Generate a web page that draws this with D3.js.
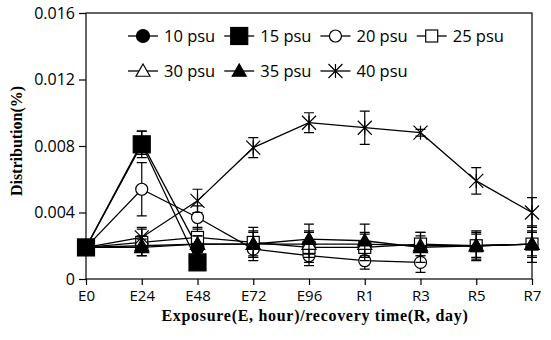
<!DOCTYPE html>
<html><head><meta charset="utf-8">
<script src="https://cdn.jsdelivr.net/npm/d3@7"></script>
<style>body{margin:0;background:#fff}</style>
</head><body>
<svg id="c" width="551" height="340"></svg>
<script>
const categories = ["E0","E24","E48","E72","E96","R1","R3","R5","R7"];
const yTicks = [0, 0.004, 0.008, 0.012, 0.016];
const yTickLabels = ["0","0.004","0.008","0.012","0.016"];
const seriesNames = ["10 psu","15 psu","20 psu","25 psu","30 psu","35 psu","40 psu"];
const psu10 = [0.0019, 0.0082, 0.0019];
const psu15 = [0.0019, 0.0081, 0.0010];
const psu20 = [0.0019, 0.0054, 0.0037, 0.0018, 0.0014, 0.0011, 0.0010];
const psu25 = [0.0019, 0.0022, 0.0025, 0.0022, 0.0019, 0.0019, 0.0021, 0.0020, 0.0021];
const psu30 = [0.0019, 0.0020, 0.0021, 0.0021, 0.0021, 0.0021, 0.0020, 0.0020, 0.0021];
const psu35 = [0.0019, 0.0019, 0.0021, 0.0021, 0.0024, 0.0023, 0.0019, 0.0020, 0.0021];
const psu40 = [0.0019, 0.0025, 0.0047, 0.0079, 0.0094, 0.0091, 0.0088, 0.0059, 0.0040];
const err10 = [0, 0.0007, 0.0005];
const err15 = [0, 0.0008, 0.0003];
const err20 = [0, 0.0016, 0.0007, 0.0007, 0.0006, 0.0005, 0.0006];
const err25 = [0, 0.0008, 0.0006, 0.0009, 0.0009, 0.0008, 0.0007, 0.0008, 0.0008];
const err30 = [0, 0.0006, 0.0005, 0.0007, 0.0008, 0.0007, 0.0006, 0.0007, 0.0007];
const err35 = [0, 0.0005, 0.0005, 0.0008, 0.0009, 0.0010, 0.0009, 0.0009, 0.0011];
const err40 = [0, 0.0006, 0.0007, 0.0006, 0.0006, 0.0010, 0.0002, 0.0008, 0.0009];
const xTitle = "Exposure(E, hour)/recovery time(R, day)";
const yTitle = "Distribution(%)";

const series = [
  {name: seriesNames[0], v: psu10, e: err10, sym: "circle", fill: true},
  {name: seriesNames[1], v: psu15, e: err15, sym: "square", fill: true},
  {name: seriesNames[2], v: psu20, e: err20, sym: "circle", fill: false},
  {name: seriesNames[3], v: psu25, e: err25, sym: "square", fill: false},
  {name: seriesNames[4], v: psu30, e: err30, sym: "triangle", fill: false},
  {name: seriesNames[5], v: psu35, e: err35, sym: "triangle", fill: true},
  {name: seriesNames[6], v: psu40, e: err40, sym: "star", fill: false}
];

const L = 86, R = 532, T = 13, B = 279;
const svg = d3.select("#c");
const x = d3.scalePoint().domain(categories).range([L, R]);
const y = d3.scaleLinear().domain([0, 0.016]).range([B, T]);

svg.append("rect").attr("x", L).attr("y", T).attr("width", R - L).attr("height", B - T)
  .attr("fill", "none").attr("stroke", "#000").attr("stroke-width", 1.2);

const yAxis = svg.append("g").attr("transform", `translate(${L},0)`)
  .call(d3.axisLeft(y).tickValues(yTicks).tickSize(7).tickPadding(4).tickFormat((d, i) => yTickLabels[i]));
yAxis.select(".domain").remove();
yAxis.selectAll("line").attr("stroke", "#000").attr("stroke-width", 1.2);
yAxis.selectAll("text").attr("font-family", "Open Sans").attr("font-size", 16).attr("fill", "#000");

const xAxis = svg.append("g").attr("transform", `translate(0,${B})`)
  .call(d3.axisBottom(x).tickSize(6).tickPadding(5));
xAxis.select(".domain").remove();
xAxis.selectAll("line").attr("stroke", "#000").attr("stroke-width", 1.2);
xAxis.selectAll("text").attr("font-family", "Open Sans").attr("font-size", 15).attr("fill", "#000");

svg.append("text").attr("x", (L + R) / 2 + 6).attr("y", 321).attr("text-anchor", "middle")
  .attr("font-family", "Liberation Serif").attr("font-weight", "bold").attr("font-size", 16)
  .attr("letter-spacing", 0.7).text(xTitle);
svg.append("text").attr("transform", "translate(22,141) rotate(-90)").attr("text-anchor", "middle")
  .attr("font-family", "Liberation Serif").attr("font-weight", "bold").attr("font-size", 16).text(yTitle);

function marker(g, s, cx, cy) {
  if (s.sym === "circle") {
    g.append("circle").attr("cx", cx).attr("cy", cy).attr("r", s.fill ? 6.5 : 6)
      .attr("fill", s.fill ? "#000" : "#fff").attr("stroke", "#000").attr("stroke-width", 1.2);
  } else if (s.sym === "square") {
    const h = s.fill ? 8.5 : 6;
    g.append("rect").attr("x", cx - h).attr("y", cy - h).attr("width", 2 * h).attr("height", 2 * h)
      .attr("fill", s.fill ? "#000" : "#fff").attr("stroke", "#000").attr("stroke-width", 1.2);
  } else if (s.sym === "triangle") {
    const h = 7;
    g.append("path").attr("d", `M${cx},${cy - h}L${cx + h},${cy + h * 0.75}L${cx - h},${cy + h * 0.75}Z`)
      .attr("fill", s.fill ? "#000" : "#fff").attr("stroke", "#000").attr("stroke-width", 1.2);
  } else {
    const h = 7;
    g.append("path").attr("d", `M${cx - h},${cy - h}L${cx + h},${cy + h}M${cx - h},${cy + h}L${cx + h},${cy - h}M${cx},${cy - h}L${cx},${cy + h}`)
      .attr("fill", "none").attr("stroke", "#000").attr("stroke-width", 1.2);
  }
}

const drawOrder = [0, 2, 3, 4, 5, 6, 1];
const line = d3.line().x((d, i) => x(categories[i])).y(d => y(d));
drawOrder.forEach(si => {
  const s = series[si];
  const g = svg.append("g");
  g.append("path").attr("d", line(s.v)).attr("fill", "none").attr("stroke", "#000").attr("stroke-width", 1.3);
  s.v.forEach((v, i) => {
    const e = s.e[i];
    if (e > 0) {
      const cx = x(categories[i]);
      g.append("path").attr("d", `M${cx},${y(v - e)}L${cx},${y(v + e)}M${cx - 5},${y(v - e)}L${cx + 5},${y(v - e)}M${cx - 5},${y(v + e)}L${cx + 5},${y(v + e)}`)
        .attr("stroke", "#000").attr("stroke-width", 1.2).attr("fill", "none");
    }
  });
  s.v.forEach((v, i) => marker(g, s, x(categories[i]), y(v)));
});

// legend
const rows = [[0, 1, 2, 3], [4, 5, 6]];
rows.forEach((row, ri) => {
  let cx = 128;
  const cy = ri === 0 ? 36 : 71;
  row.forEach(si => {
    const s = series[si];
    const g = svg.append("g");
    g.append("line").attr("x1", cx).attr("x2", cx + 30).attr("y1", cy).attr("y2", cy).attr("stroke", "#000").attr("stroke-width", 1.3);
    marker(g, s, cx + 15, cy);
    const t = g.append("text").attr("x", cx + 36).attr("y", cy + 6).attr("font-family", "Open Sans").attr("font-size", 16.5).text(s.name);
    cx += 36 + t.node().getComputedTextLength() + 9;
  });
});
</script>
</body></html>
